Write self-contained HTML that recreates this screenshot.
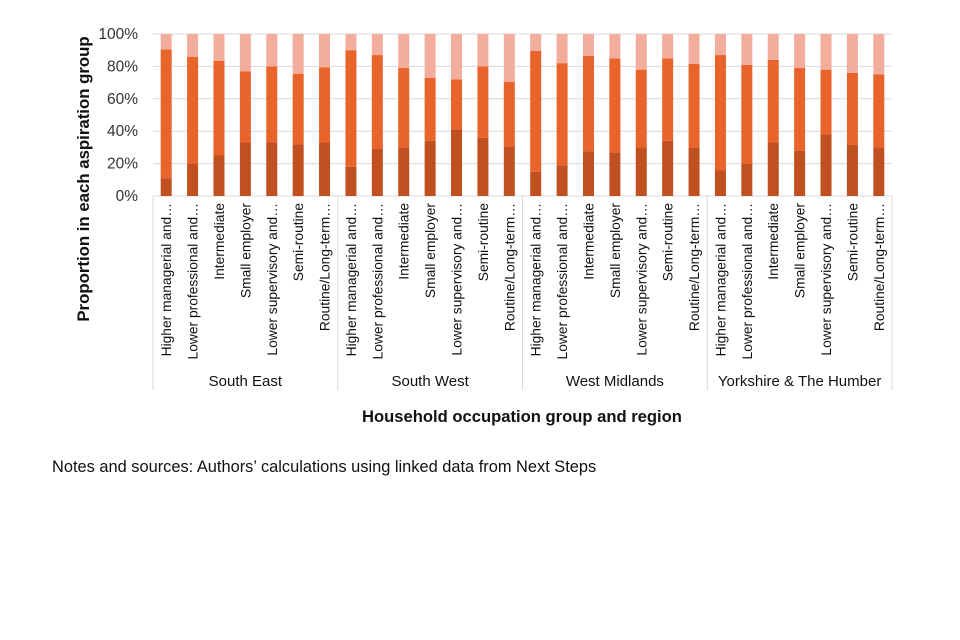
<!DOCTYPE html>
<html><head><meta charset="utf-8"><style>
body{margin:0;background:#fff;}
svg{display:block;font-family:"Liberation Sans",Arial,sans-serif;}
</style></head><body>
<svg id="chart" width="960" height="640" viewBox="0 0 960 640"></svg>
<script>
const regions = ["South East","South West","West Midlands","Yorkshire & The Humber"];
const occupations = ["Higher managerial and…","Lower professional and…","Intermediate","Small employer","Lower supervisory and…","Semi-routine","Routine/Long-term…"];
const bottomVals = [11,20,25,33,33,32,33, 18,29,30,34,41,36,30.5, 15,19,27.5,27,30,34,30, 16,20,33,28,38,31.5,30];
const cumTopVals = [90.5,86,83.5,77,80,75.5,79.5, 90,87,79,73,72,80,70.5, 89.5,82,86.5,85,78,85,81.5, 87,81,84,79,78,76,75];
const yTicks = [0,20,40,60,80,100];

const NS="http://www.w3.org/2000/svg";
const svg=document.getElementById('chart');
const x0=153,x1=892,yBase=196,yTop=34;
const n=bottomVals.length, slot=(x1-x0)/n, bw=11;
const yS=v=>yBase-(v/100)*(yBase-yTop);
const xC=i=>x0+slot*(i+0.5);
function mk(tag,attrs,txt){const e=document.createElementNS(NS,tag);for(const k in attrs)e.setAttribute(k,attrs[k]);if(txt!==undefined)e.textContent=txt;svg.appendChild(e);return e;}

yTicks.forEach(t=>{
  const g=mk('line',{x1:x0,x2:x1,y1:yS(t),y2:yS(t),stroke:'#d9d9d9','stroke-width':1});
  
  
  const l=mk('text',{x:138,y:yS(t)+5,'text-anchor':'end','font-size':15.5,fill:'#333'},t+'%');
  
  
});

for(let i=0;i<n;i++){
  const cx=xC(i);
  const b=mk('rect',{x:cx-bw/2,y:yS(bottomVals[i]),width:bw,height:yS(0)-yS(bottomVals[i]),fill:'#c0501f'});
  
  
  const m=mk('rect',{x:cx-bw/2,y:yS(cumTopVals[i]),width:bw,height:yS(bottomVals[i])-yS(cumTopVals[i]),fill:'#e8642a'});
  
  
  const t=mk('rect',{x:cx-bw/2,y:yS(100),width:bw,height:yS(cumTopVals[i])-yS(100),fill:'#f2ad9c'});
  
  
  const lab=mk('text',{x:0,y:0,'text-anchor':'end','font-size':13.8,fill:'#111',transform:`translate(${cx+5},203) rotate(-90)`},occupations[i%occupations.length]);
  
  
}

const per=occupations.length;
for(let r=0;r<=regions.length;r++){
  const x=x0+slot*per*r;
  const s=mk('line',{x1:x,x2:x,y1:yBase,y2:390,stroke:'#d9d9d9','stroke-width':1});
  
  
}
regions.forEach((rg,r)=>{
  const t=mk('text',{x:x0+slot*per*(r+0.5),y:386,'text-anchor':'middle','font-size':15,fill:'#111'},rg);
  
  
});

const yt=mk('text',{x:0,y:0,'text-anchor':'middle','font-size':16.8,'font-weight':'bold',fill:'#111',transform:'translate(89,179) rotate(-90)'},'Proportion in each aspiration group');


const xt=mk('text',{x:522,y:422,'text-anchor':'middle','font-size':16.6,'font-weight':'bold',fill:'#111'},'Household occupation group and region');


const nt=mk('text',{x:52,y:472,'font-size':16.4,fill:'#111'},'Notes and sources: Authors’ calculations using linked data from Next Steps');


</script>
</body></html>
